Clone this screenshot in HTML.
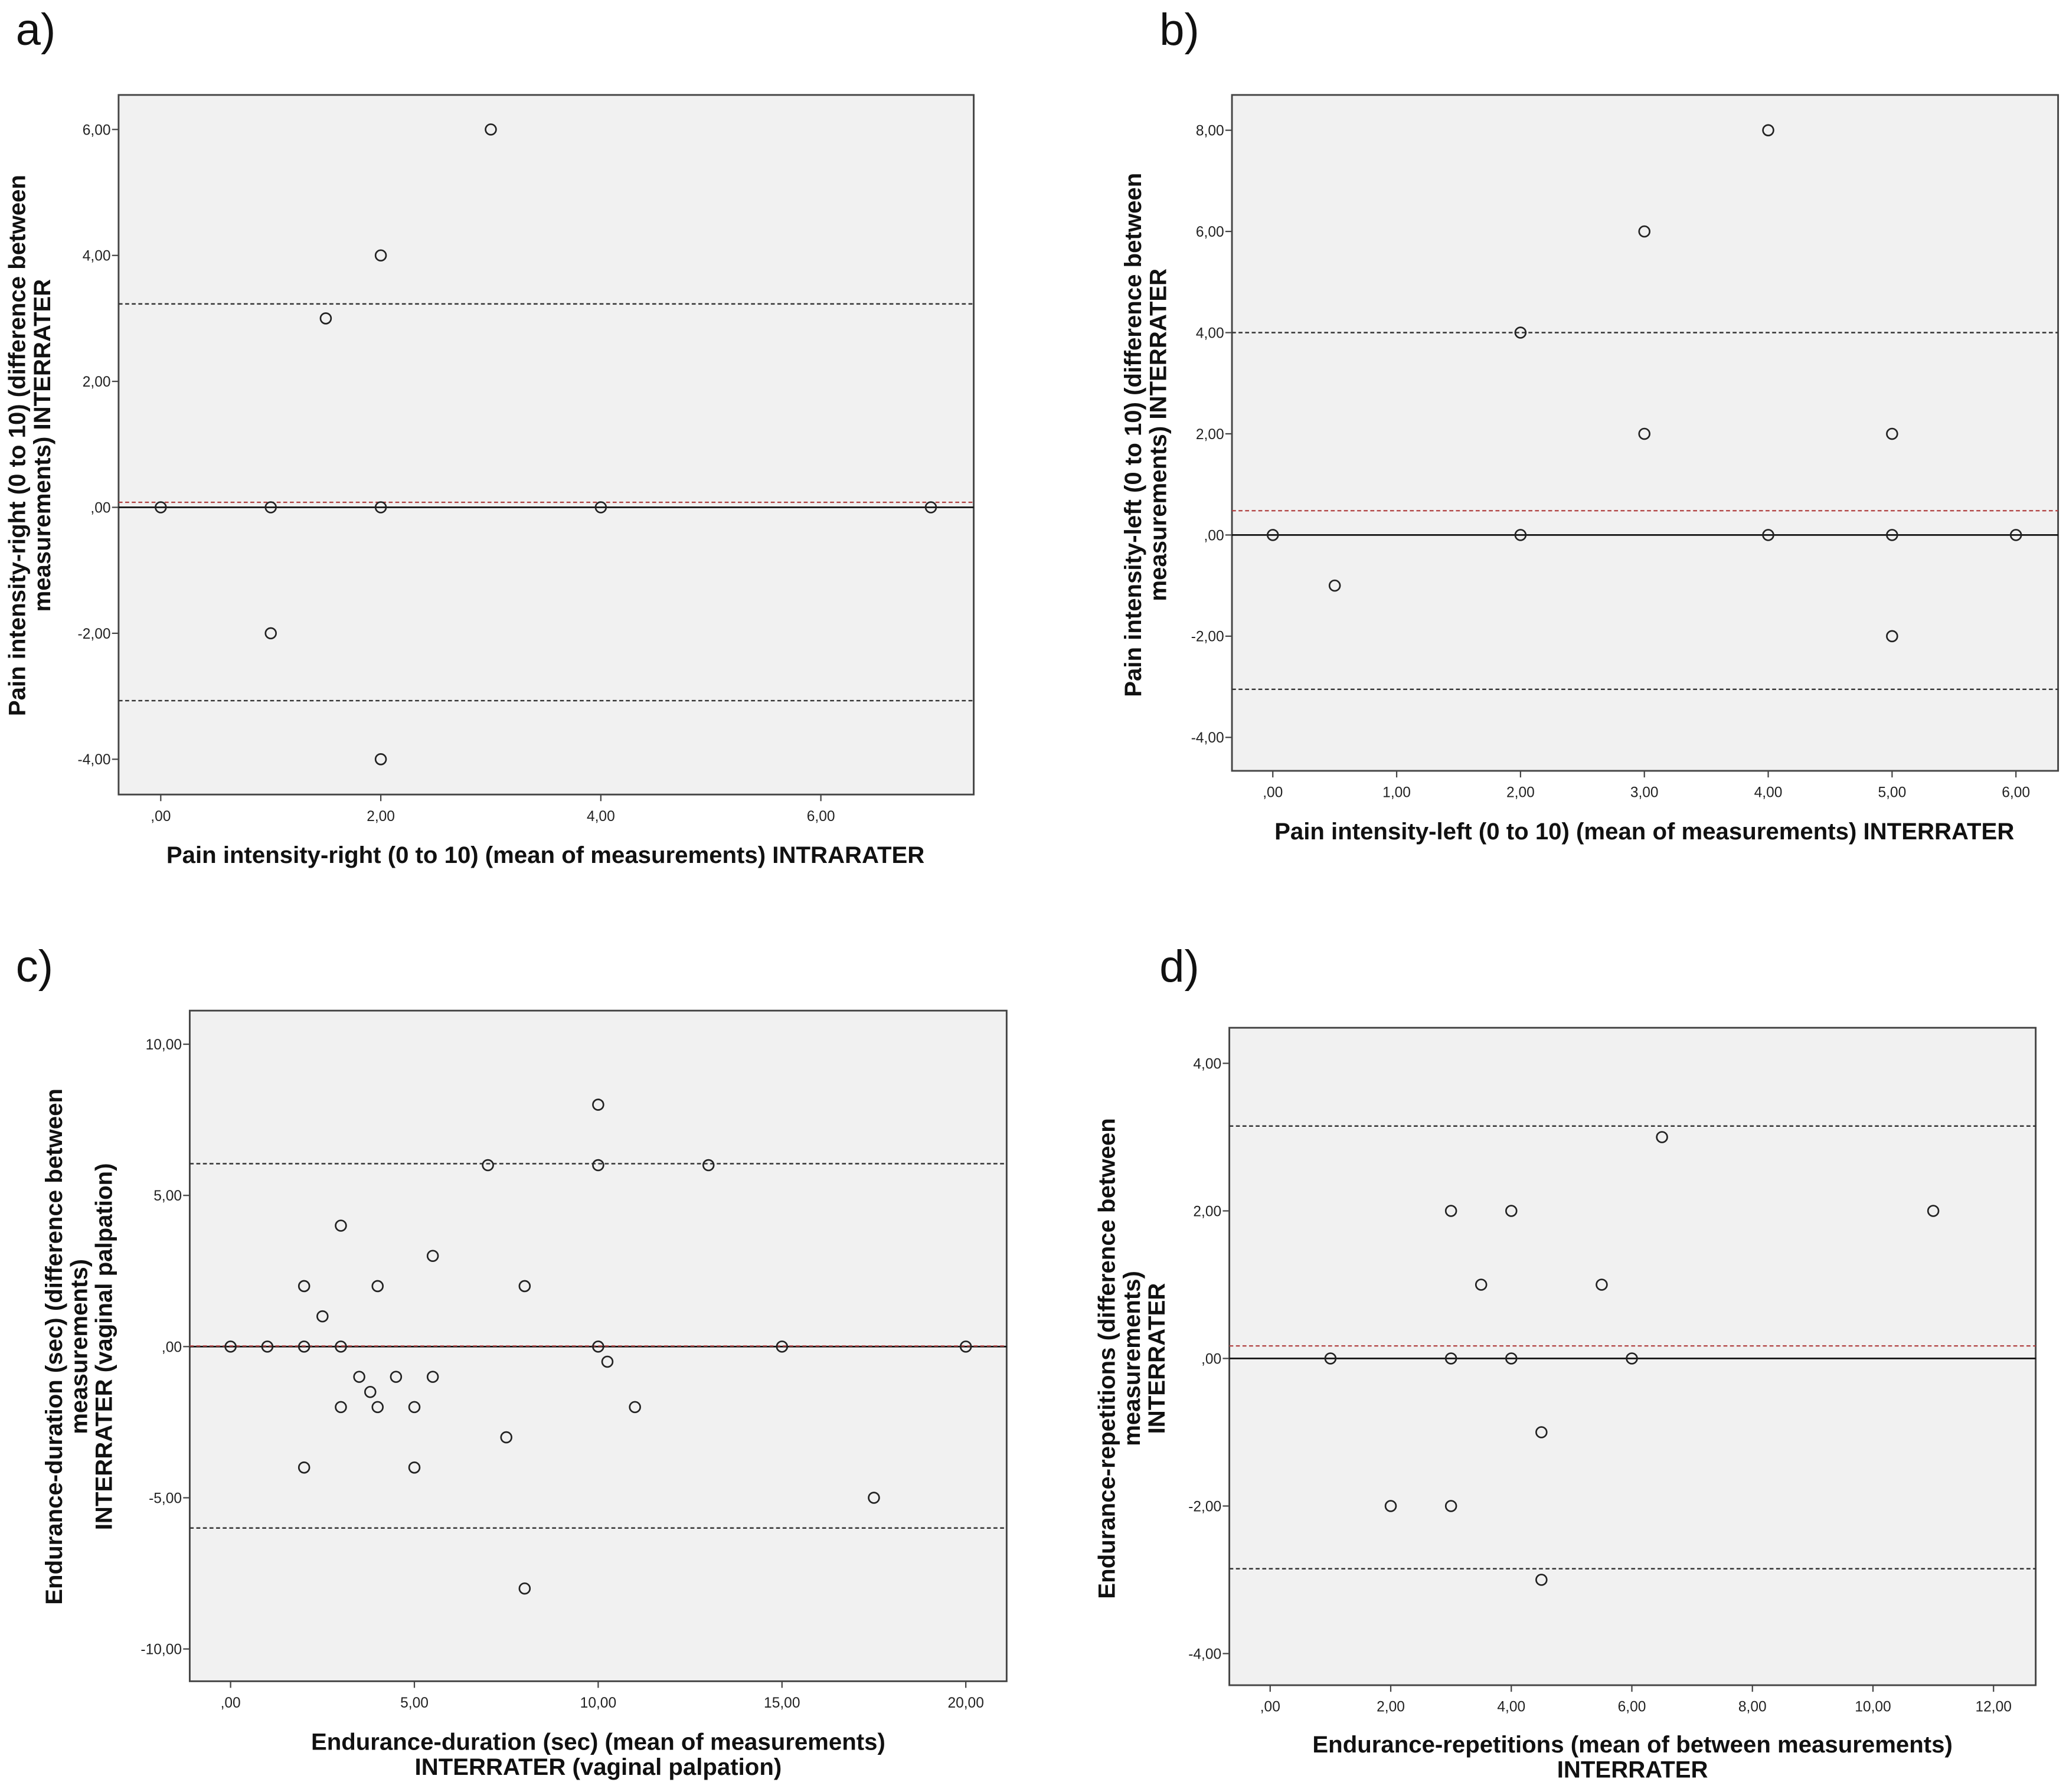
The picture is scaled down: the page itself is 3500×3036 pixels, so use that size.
<!DOCTYPE html>
<html><head><meta charset="utf-8"><style>
html,body{margin:0;padding:0;background:#fff;}
svg{display:block;}
text{font-family:"Liberation Sans",sans-serif;}
.tick{font-size:11px;fill:#222;}
.title{font-size:18px;font-weight:bold;fill:#111;}
.panel{font-size:34px;fill:#111;}
</style></head><body>
<svg id="fig" width="3500" height="3036" viewBox="0 0 1568 1360" xmlns="http://www.w3.org/2000/svg"></svg>
<script>
// Panel a data
const aX = [0,1,2,4,7,3,2,1.5,1,2];
const aY = [0,0,0,0,0,6,4,3,-2,-4];
const aYTicks = [6,4,2,0,-2,-4];
const aXTicks = [0,2,4,6];
const aLines = [3.23,-3.07];
const aMean = [0.08];
// Panel b data
const bX = [0,0.5,2,2,3,3,4,4,5,5,5,6];
const bY = [0,-1,4,0,6,2,8,0,2,0,-2,0];
const bYTicks = [8,6,4,2,0,-2,-4];
const bXTicks = [0,1,2,3,4,5,6];
const bLines = [4.0,-3.05];
const bMean = [0.48];
// Panel c data
const cX = [0,1,2,2,2,2.5,3,3,3,3.5,3.8,4,4,4.5,5,5,5.5,5.5,7,7.5,8,8,10,10,10,10.25,11,13,15,17.5,20];
const cY = [0,0,0,2,-4,1,4,0,-2,-1,-1.5,2,-2,-1,-2,-4,3,-1,6,-3,2,-8,8,6,0,-0.5,-2,6,0,-5,0];
const cYTicks = [10,5,0,-5,-10];
const cXTicks = [0,5,10,15,20];
const cLines = [6.05,-6.0];
const cMean = [0.02];
// Panel d data
const dX = [1,2,3,3,3,3.5,4,4,4.5,4.5,5.5,6,6.5,11];
const dY = [0,-2,2,0,-2,1,2,0,-1,-3,1,0,3,2];
const dYTicks = [4,2,0,-2,-4];
const dXTicks = [0,2,4,6,8,10,12];
const dLines = [3.15,-2.85];
const dMean = [0.17];

const NS="http://www.w3.org/2000/svg";
const svg=document.getElementById('fig');
function mk(tag,attrs,parent,text){const e=document.createElementNS(NS,tag);for(const k in attrs)e.setAttribute(k,attrs[k]);if(text!==undefined)e.textContent=text;(parent||svg).appendChild(e);return e;}
function fmt(v){let s=Math.abs(v).toFixed(2).replace('.',',');if(Math.abs(v)<1)s=s.replace(/^0/,'');return (v<0?'-':'')+s;}

function panel(cfg){
  const g=mk('g',{});
  
  
  const b=cfg.box;
  const sx=v=>cfg.x0+(v-cfg.xv0)*cfg.xs;
  const sy=v=>cfg.y0-(v-cfg.yv0)*cfg.ys;
  const bg=mk('rect',{x:b[0],y:b[1],width:b[2]-b[0],height:b[3]-b[1],fill:'#f1f1f1',stroke:'#444','stroke-width':1.3},g);
  
  
  cfg.yt.forEach(v=>{
    const y=sy(v);
    mk('line',{x1:b[0]-5,x2:b[0],y1:y,y2:y,stroke:'#444'},g);
    const t=mk('text',{x:b[0]-6,y:y+4,'text-anchor':'end',class:'tick'},g,fmt(v));
    
    
  });
  cfg.xt.forEach(v=>{
    const x=sx(v);
    mk('line',{x1:x,x2:x,y1:b[3],y2:b[3]+5,stroke:'#444'},g);
    const t=mk('text',{x:x,y:b[3]+20,'text-anchor':'middle',class:'tick'},g,fmt(v));
    
    
  });
  const z=mk('line',{x1:b[0],x2:b[2],y1:sy(0),y2:sy(0),stroke:'#111','stroke-width':1.2},g);
  
  
  cfg.lines.forEach(v=>{
    const l=mk('line',{x1:b[0],x2:b[2],y1:sy(v),y2:sy(v),stroke:'#333','stroke-width':1.1,'stroke-dasharray':'3,2'},g);
    
    
  });
  cfg.mean.forEach(v=>{
    const l=mk('line',{x1:b[0],x2:b[2],y1:sy(v),y2:sy(v),stroke:'#b04040','stroke-width':1,'stroke-dasharray':'3,2'},g);
    
    
  });
  cfg.px.forEach((xv,i)=>{
    const c=mk('circle',{cx:sx(xv),cy:sy(cfg.py[i]),r:4,fill:'none',stroke:'#222','stroke-width':1.2},g);
    
    
  });
  const lab=mk('text',{x:cfg.lab[0],y:cfg.lab[1],class:'panel'},g,cfg.letter);
  
  
  cfg.xtitle.forEach((s,i)=>{
    const t=mk('text',{x:cfg.xtPos[0],y:cfg.xtPos[1]+i*19,'text-anchor':'middle',class:'title'},g,s);
    
    
  });
  cfg.ytitle.forEach((s,i)=>{
    const x=cfg.ytPos[0]+i*19, y=cfg.ytPos[1];
    const t=mk('text',{x:x,y:y,'text-anchor':'middle',class:'title',transform:`rotate(-90 ${x} ${y})`},g,s);
    
    
  });
}

panel({name:'panel-a',letter:'a)',lab:[12,34],box:[90,72,739,603],x0:122,xv0:0,xs:83.5,y0:385,yv0:0,ys:47.8,
  yt:aYTicks,xt:aXTicks,lines:aLines,mean:aMean,px:aX,py:aY,
  xtitle:['Pain intensity-right (0 to 10) (mean of measurements) INTRARATER'],xtPos:[414,655],
  ytitle:['Pain intensity-right (0 to 10) (difference between','measurements) INTERRATER'],ytPos:[19,338]});
panel({name:'panel-b',letter:'b)',lab:[880,34],box:[935,72,1562,585],x0:966,xv0:0,xs:94,y0:406,yv0:0,ys:38.4,
  yt:bYTicks,xt:bXTicks,lines:bLines,mean:bMean,px:bX,py:bY,
  xtitle:['Pain intensity-left (0 to 10) (mean of measurements) INTERRATER'],xtPos:[1248,637],
  ytitle:['Pain intensity-left (0 to 10)  (difference between','measurements) INTERRATER'],ytPos:[866,330]});
panel({name:'panel-c',letter:'c)',lab:[12,745],box:[144,767,764,1276],x0:175,xv0:0,xs:27.9,y0:1022,yv0:0,ys:22.95,
  yt:cYTicks,xt:cXTicks,lines:cLines,mean:cMean,px:cX,py:cY,
  xtitle:['Endurance-duration (sec) (mean of measurements)','INTERRATER (vaginal palpation)'],xtPos:[454,1328],
  ytitle:['Endurance-duration (sec) (difference between','measurements)','INTERRATER (vaginal palpation)'],ytPos:[47,1022]});
panel({name:'panel-d',letter:'d)',lab:[880,745],box:[933,780,1545,1279],x0:964,xv0:0,xs:45.75,y0:1031,yv0:0,ys:56,
  yt:dYTicks,xt:dXTicks,lines:dLines,mean:dMean,px:dX,py:dY,
  xtitle:['Endurance-repetitions (mean of between measurements)','INTERRATER'],xtPos:[1239,1330],
  ytitle:['Endurance-repetitions (difference between','measurements)','INTERRATER'],ytPos:[846,1031]});
</script>
</body></html>
